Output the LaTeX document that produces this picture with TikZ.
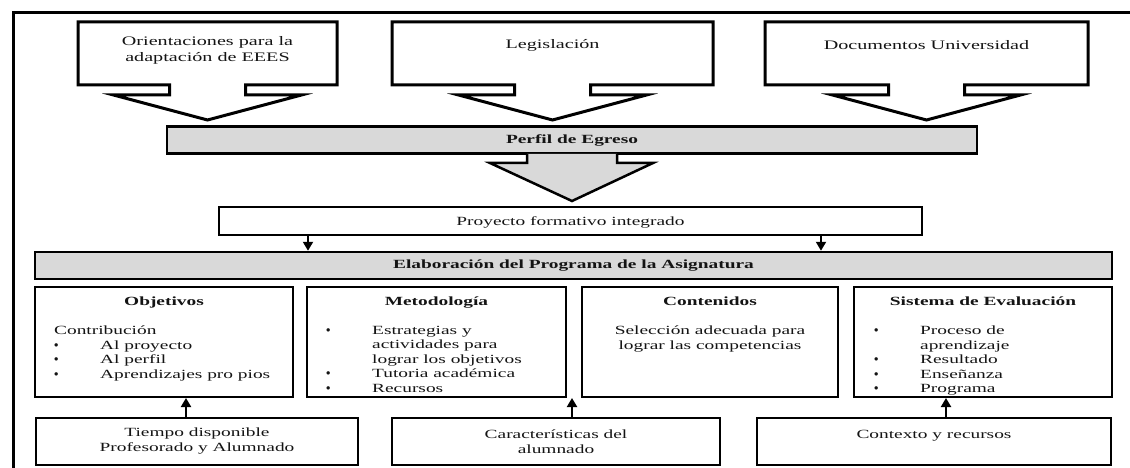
\documentclass[tikz,border=0pt]{standalone}
\usepackage{fontspec}
\usepackage{graphicx}
\setmainfont{Liberation Serif}
\usetikzlibrary{arrows.meta,positioning,calc}
\definecolor{bandgray}{RGB}{217,217,217}
\definecolor{inkgray}{RGB}{20,20,20}
\newcommand{\wide}[1]{\scalebox{1.55}[1]{#1}}
\newcommand{\blt}{\makebox[46pt][l]{\bfseries\textbullet}}
\newcommand{\ind}{\hspace*{46pt}}

\begin{document}
\fontsize{12.5}{15}\selectfont
\begin{tikzpicture}[x=1pt, y=-1pt,
    every node/.style={text=inkgray},
    callout/.style={draw, line width=3pt, line join=miter, fill=white},
    band/.style={draw, line width=2.5pt, fill=bandgray, minimum height=27pt,
        inner sep=0pt, font=\bfseries},
    panel/.style={draw, line width=2pt, inner sep=0pt, align=center},
    toptxt/.style={align=center, inner sep=0pt, font=\fontsize{13}{16}\selectfont},
    ttl/.style={inner sep=0pt, text height=9pt, text depth=3pt, font=\bfseries},
    listtxt/.style={align=left, inner sep=0pt, font=\fontsize{12.5}{14.5}\selectfont},
    arr/.style={-{Triangle[width=10pt,length=9pt]}, line width=2pt},
    bigarrow/.style={draw, line width=2.5pt, fill=bandgray, line join=miter}
]
    \useasboundingbox (0,0) rectangle (1130,468);
    \draw[line width=3pt] (13,468) -- (13,13) -- (1130,13);

    % Sources
    \foreach \cx/\l/\r in {207.5/78/337, 552.5/392/713, 926.5/765/1088}
        \draw[callout] (\l,85) -- (\l,22) -- (\r,22) -- (\r,85) -- ({\cx+38},85)
            -- ({\cx+38},95) -- ({\cx+94},95) -- (\cx,120) -- ({\cx-94},95)
            -- ({\cx-38},95) -- ({\cx-38},85) -- cycle;
    \node[toptxt] (orient) at (207.5,50) {\wide{Orientaciones para la}\\\wide{adaptación de EEES}};
    \node[toptxt] (legis) at (552.5,45) {\wide{Legislación}};
    \node[toptxt] (docs) at (926.5,45) {\wide{Documentos Universidad}};

    \node[band, minimum width=810pt] (perfil) at (572,140) {\wide{Perfil de Egreso}};
    \draw[bigarrow] (527,154) -- (527,163) -- (490,163) -- (572,201) -- (653,163)
        -- (617,163) -- (617,154);

    \node[panel, minimum width=703pt, minimum height=28pt, text depth=0pt] (proy) at (570.5,221) {\wide{Proyecto formativo integrado}};
    \node[band, minimum width=1077pt] (elab) at (573.5,265.5) {\wide{Elaboración del Programa de la Asignatura}};
    \draw[arr] (proy.south -| 308,0) -- (elab.north -| 308,0);
    \draw[arr] (proy.south -| 821,0) -- (elab.north -| 821,0);

    % Program parts
    \node[panel, minimum width=258pt, minimum height=110pt] (obj) at (164,342) {};
    \node[panel, minimum width=259pt, minimum height=110pt] (met) at (436.5,342) {};
    \node[panel, minimum width=256pt, minimum height=110pt] (cont) at (710,342) {};
    \node[panel, minimum width=258pt, minimum height=110pt] (eval) at (983,342) {};

    \node[ttl, below=10pt of obj.north] (objT) {\wide{Objetivos}};
    \node[ttl, below=10pt of met.north] (metT) {\wide{Metodología}};
    \node[ttl, below=10pt of cont.north] (contT) {\wide{Contenidos}};
    \node[ttl, below=10pt of eval.north] (evalT) {\wide{Sistema de Evaluación}};

    \node[listtxt, below right=40pt and 20pt of obj.north west] (objL)
        {\wide{Contribución}\\\blt\wide{Al proyecto}\\\blt\wide{Al perfil}\\\blt\wide{Aprendizajes pro pios}};
    \node[listtxt, below right=40pt and 20pt of met.north west] (metL)
        {\blt\wide{Estrategias y}\\\ind\wide{actividades para}\\\ind\wide{lograr los objetivos}\\\blt\wide{Tutoria académica}\\\blt\wide{Recursos}};
    \node[listtxt, align=center, below=40pt of cont.north] (contL)
        {\wide{Selección adecuada para}\\\wide{lograr las competencias}};
    \node[listtxt, below right=40pt and 21pt of eval.north west] (evalL)
        {\blt\wide{Proceso de}\\\ind\wide{aprendizaje}\\\blt\wide{Resultado}\\\blt\wide{Enseñanza}\\\blt\wide{Programa}};

    % Conditions
    \node[panel, minimum width=322pt, minimum height=47pt] (tiempo) at (197,441.5) {\wide{Tiempo disponible}\\\wide{Profesorado y Alumnado}};
    \node[panel, minimum width=328pt, minimum height=47pt] (cara) at (556,441.5) {\wide{Características del}\\\wide{alumnado}};
    \node[panel, minimum width=354pt, minimum height=47pt] (ctx) at (934,441.5) {\wide{Contexto y recursos}\\\mbox{}};

    \draw[arr] (tiempo.north -| 186,0) -- (obj.south -| 186,0);
    \draw[arr] (cara.north -| 572,0) -- (met.south -| 572,0);
    \draw[arr] (ctx.north -| 946,0) -- (eval.south -| 946,0);
\end{tikzpicture}
\end{document}
